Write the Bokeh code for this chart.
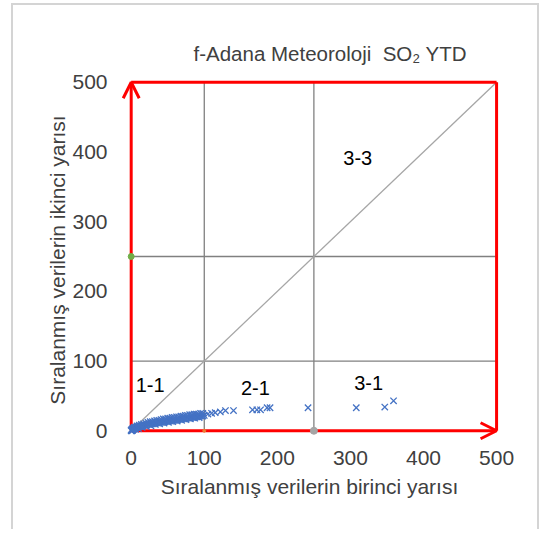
from bokeh.plotting import figure
from bokeh.models import Range1d, FixedTicker, Arrow, OpenHead, ColumnDataSource, Title
from bokeh.embed import file_html
from bokeh.resources import INLINE

# ---- data ----
title_text = "f-Adana Meteoroloji\u00a0 SO\u2082 YTD"
x_label = "Sıralanmış verilerin birinci yarısı"
y_label = "Sıralanmış verilerin ikinci yarısı"
ticks = [0, 100, 200, 300, 400, 500]

first_half = [0, 0, 1, 1, 2, 2, 3, 3, 4, 5, 5, 6, 7, 8, 9, 10, 11, 12, 13, 14,
              15, 16, 17, 18, 19, 20, 22, 24, 26, 28, 30, 32, 34, 36, 38, 40, 42, 44, 46, 48,
              50, 52, 54, 56, 58, 60, 62, 64, 66, 68, 70, 72, 74, 76, 78, 80, 82, 84, 86, 88,
              90, 92, 94, 96, 98, 100,
              4, 8, 11, 14, 17, 20, 23, 26, 29, 32, 35, 38, 41, 44, 47, 50, 53, 56, 59, 62,
              65, 68, 71, 74, 77, 80, 83, 86, 89, 92, 95, 98,
              2, 6, 10, 15, 21, 27, 33, 39, 45, 51, 57, 63, 69, 75, 81, 87, 93,
              105, 110, 115, 122, 129, 140, 166, 172, 177, 186, 190, 242, 308, 347, 359]
second_half = [0, 1, 0, 2, 1, 3, 2, 3, 3, 4, 3, 4, 5, 5, 5, 6, 6, 6, 7, 7,
               7, 7, 8, 8, 8, 8, 9, 9, 10, 10, 10, 11, 11, 11, 12, 12, 12, 13, 13, 13,
               14, 14, 14, 15, 15, 15, 16, 16, 16, 17, 17, 17, 17, 18, 18, 18, 19, 19, 19, 20,
               20, 20, 21, 21, 21, 22,
               5, 7, 8, 9, 10, 11, 12, 13, 13, 14, 15, 15, 16, 17, 17, 18, 18, 19, 19, 20,
               20, 21, 21, 22, 22, 23, 23, 24, 24, 24, 25, 25,
               1, 2, 3, 5, 6, 7, 9, 10, 11, 12, 13, 14, 15, 16, 17, 18, 19,
               24, 25, 26, 27, 29, 29, 30, 30, 30, 33, 33, 33, 33, 34, 43]

region_names = ["1-1", "2-1", "3-1", "3-3"]
region_x = [26, 170, 325, 310]
region_y = [66, 62, 68, 392]

grid_values = [100, 250]
limit = 500

assert len(first_half) == len(second_half)

FONT = "Liberation Sans"

p = figure(width=528, height=526, output_backend="svg", toolbar_location=None,
           x_range=Range1d(-16, 504), y_range=Range1d(-14, 504),
           min_border_left=106, min_border_right=42, min_border_top=74, min_border_bottom=91,
           background_fill_color="white", border_fill_color="white")
p.styles = {"margin-left": "11px", "margin-top": "3px",
            "border-left": "2px solid #d4d4d4", "border-right": "2px solid #d4d4d4",
            "border-top": "2px solid #d4d4d4"}
p.outline_line_color = None
p.xgrid.visible = False
p.ygrid.visible = False

for ax in (p.xaxis[0], p.yaxis[0]):
    ax.ticker = FixedTicker(ticks=ticks)
    ax.axis_line_color = None
    ax.major_tick_line_color = None
    ax.minor_tick_line_color = None
    ax.major_label_text_font = FONT
    ax.major_label_text_font_size = "21px"
    ax.major_label_text_color = "#404040"
    ax.axis_label_text_font = FONT
    ax.axis_label_text_font_size = "21px"
    ax.axis_label_text_font_style = "normal"
    ax.axis_label_text_color = "#404040"
p.xaxis.axis_label = x_label
p.yaxis.axis_label = y_label
p.xaxis.major_label_standoff = 4
p.yaxis.major_label_standoff = 6
p.xaxis.axis_label_standoff = 7
p.yaxis.axis_label_standoff = 0

# title
p.add_layout(Title(text=title_text, align="left", offset=74, standoff=29,
                   text_font=FONT, text_font_size="20.5px", text_font_style="normal",
                   text_color="#404040"), "above")

# grid lines at 100 and 250
for g in grid_values:
    p.segment(x0=[g], y0=[0], x1=[g], y1=[limit], line_color="#808080", line_width=1.3)
    p.segment(x0=[0], y0=[g], x1=[limit], y1=[g], line_color="#808080", line_width=1.3)

# diagonal
p.line(x=[0, limit], y=[0, limit], line_color="#a6a6a6", line_width=1.3)

# red frame: top and right
p.segment(x0=[0, limit], y0=[limit, 0], x1=[limit, limit], y1=[limit, limit],
          line_color="#ff0000", line_width=3)
# red arrows: left and bottom
p.add_layout(Arrow(end=OpenHead(size=16, line_color="#ff0000", line_width=3),
                   x_start=0, y_start=0, x_end=0, y_end=limit,
                   line_color="#ff0000", line_width=3))
p.add_layout(Arrow(end=OpenHead(size=16, line_color="#ff0000", line_width=3),
                   x_start=0, y_start=0, x_end=limit, y_end=0,
                   line_color="#ff0000", line_width=3))

# data
src = ColumnDataSource(dict(x=first_half, y=second_half))
p.scatter("x", "y", source=src, marker="x", size=9, line_color="#4472c4", line_width=1.3,
          level="overlay")

# marker dots
p.scatter(x=[0], y=[250], size=6, fill_color="#70ad47", line_color="#70ad47", level="overlay")
p.scatter(x=[250], y=[0], size=7, fill_color="#a5a5a5", line_color="#a5a5a5", level="overlay")
p.scatter(x=[100], y=[0], size=3, fill_color="#ed7d31", line_color="#ed7d31", level="overlay")

# region labels
p.text(x=region_x, y=region_y, text=region_names, text_align="center",
       text_baseline="middle", text_font_size="20px", text_color="#000000",
       text_font={"value": FONT})

open("out.html", "w").write(file_html(p, INLINE))
